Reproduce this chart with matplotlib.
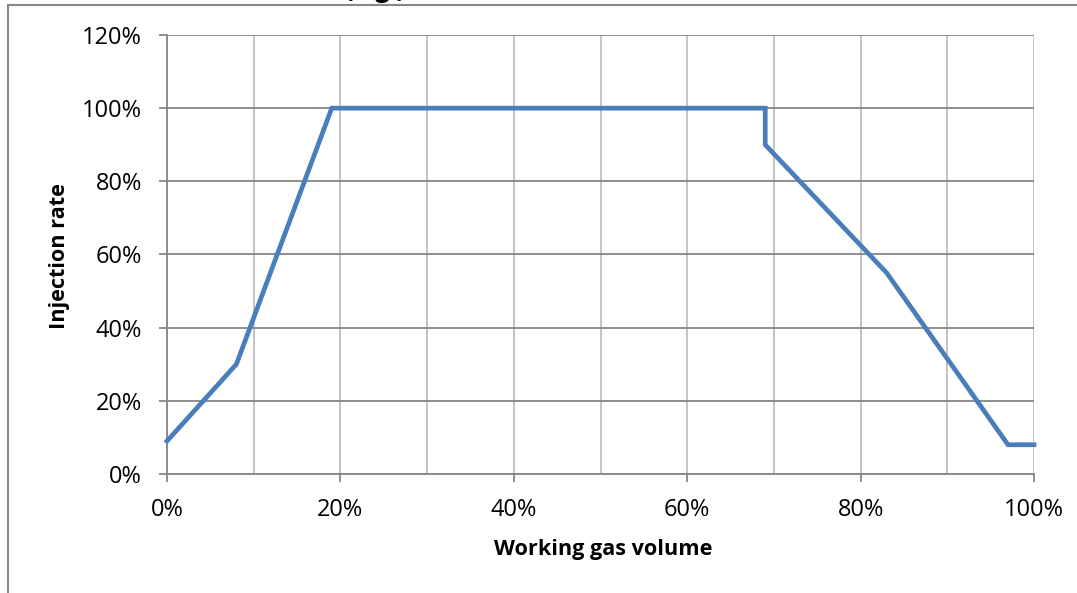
import matplotlib
matplotlib.use("Agg")
import matplotlib.pyplot as plt
from matplotlib.ticker import MultipleLocator, FuncFormatter
from matplotlib.lines import Line2D

# Data (fractions)
working_gas_volume = [0.00, 0.08, 0.19, 0.69, 0.69, 0.83, 0.97, 1.00]
injection_rate = [0.09, 0.30, 1.00, 1.00, 0.90, 0.55, 0.08, 0.08]

x_label = "Working gas volume"
y_label = "Injection rate"
title_fragment = "(e.g.)"

W, H = 1077, 593
fig = plt.figure(figsize=(W / 100, H / 100), dpi=100)
plt.rcParams['font.family'] = ['Open Sans', 'DejaVu Sans']

left, right, top, bottom = 167, 1034, 35, 474
ax = fig.add_axes([left / W, 1 - bottom / H, (right - left) / W, (bottom - top) / H])

dark = '#868686'
light = '#BFBFBF'
blue = '#4A7EBB'

ax.plot(working_gas_volume, injection_rate, color=blue, lw=3.4,
        solid_joinstyle='miter', zorder=3, clip_on=False)

ax.set_xlim(0, 1)
ax.set_ylim(0, 1.2)
ax.xaxis.set_major_locator(MultipleLocator(0.2))
ax.xaxis.set_minor_locator(MultipleLocator(0.1))
ax.yaxis.set_major_locator(MultipleLocator(0.2))
pct = FuncFormatter(lambda v, p: f"{v*100:.0f}%")
ax.xaxis.set_major_formatter(pct)
ax.yaxis.set_major_formatter(pct)

ax.grid(which='minor', axis='x', color=light, lw=1.3)
ax.grid(which='major', axis='x', color=light, lw=1.3)
ax.grid(which='major', axis='y', color=dark, lw=1.3)
ax.set_axisbelow(True)

for s in ['top', 'right']:
    ax.spines[s].set_visible(False)
for s in ['left', 'bottom']:
    ax.spines[s].set_color(dark)
    ax.spines[s].set_linewidth(1.3)

ax.tick_params(axis='both', which='major', direction='out', length=6,
               width=1.3, color=dark, labelsize=17, labelcolor='black')
ax.tick_params(axis='y', pad=12)
ax.tick_params(axis='x', pad=11)
ax.tick_params(which='minor', length=0)

fig.text(603 / W, 1 - 550 / H, x_label, ha='center', va='center',
         fontsize=15.6, fontweight='bold')
fig.text(59 / W, 1 - 256 / H, y_label, ha='center', va='center',
         fontsize=15.6, fontweight='bold', rotation=90)

# partially visible title at the top edge
fig.text(375 / W, 1 + 3 / H, title_fragment, ha='center', va='baseline',
         fontsize=18, fontweight='bold')

# outer chart border (extends beyond the image on right and bottom)
fig.add_artist(Line2D([8 / W, 8 / W], [1 - 5 / H, 0], transform=fig.transFigure,
                      color=dark, lw=1.5))
fig.add_artist(Line2D([8 / W, 1], [1 - 5 / H, 1 - 5 / H], transform=fig.transFigure,
                      color=dark, lw=1.5))

fig.savefig("out.png", dpi=100)
